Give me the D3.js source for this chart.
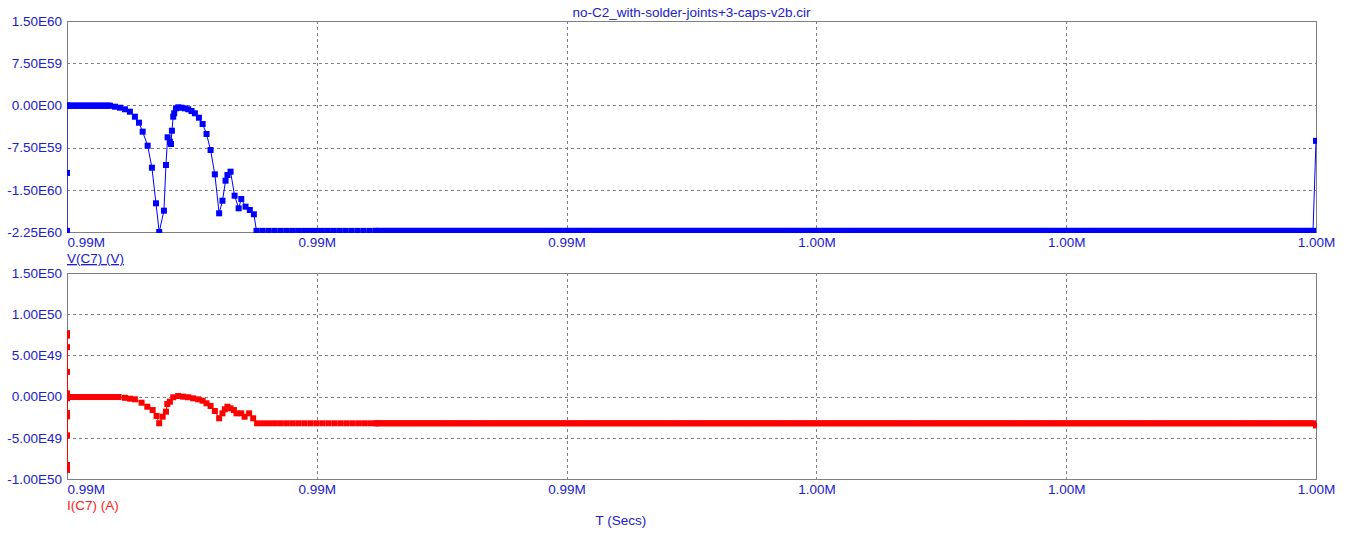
<!DOCTYPE html>
<html><head><meta charset="utf-8">
<script src="https://cdn.jsdelivr.net/npm/d3@7"></script>
<style>body{margin:0;background:#fff}</style>
</head><body>
<svg id="c" width="1353" height="541"></svg>
<script>
// ---------- data ----------
const title = "no-C2_with-solder-joints+3-caps-v2b.cir";
const xLabel = "T (Secs)";
const vName = "V(C7) (V)";
const iName = "I(C7) (A)";
const xDomain = [989500, 1000000];
const xTicks = [989500, 991600, 993700, 995800, 997900, 1000000];
const vTicks = [1.5e60, 7.5e59, 0, -7.5e59, -1.5e60, -2.25e60];
const vTickLabels = ["1.50E60", "7.50E59", "0.00E00", "-7.50E59", "-1.50E60", "-2.25E60"];
const iTicks = [1.5e50, 1e50, 5e49, 0, -5e49, -1e50];
const iTickLabels = ["1.50E50", "1.00E50", "5.00E49", "0.00E00", "-5.00E49", "-1.00E50"];

// V(C7): individually read samples (time s, value in units of 1E60 V)
const vTime = [989500, 989500, 989500, 989861, 989903, 989945, 989987, 990029, 990071, 990105,
  990136, 990178, 990214, 990248, 990275, 990315, 990332, 990346, 990365, 990374,
  990382, 990393, 990401, 990416, 990435, 990463, 990491, 990519, 990547, 990575,
  990609, 990640, 990673, 990707, 990743, 990779, 990807, 990833, 990849, 990875,
  990909, 990943, 990965, 991001, 991037, 991071, 991093, 1000000];
const vValue = [-2.23, -1.20, 0.00, -0.005, -0.023, -0.041, -0.069, -0.112, -0.201, -0.307,
  -0.467, -0.716, -1.107, -1.740, -2.25, -1.871, -1.059, -0.567, -0.645, -0.686,
  -0.450, -0.201, -0.140, -0.052, -0.034, -0.041, -0.052, -0.069, -0.100, -0.140,
  -0.219, -0.331, -0.508, -0.793, -1.225, -1.918, -1.694, -1.338, -1.237, -1.178,
  -1.605, -1.829, -1.663, -1.800, -1.859, -1.935, -2.23, -0.63];
// V(C7): densely sampled flat stretches (start, end, level in 1E60 V, sample step s)
const vDenseStart = [989508, 991143, 992100];
const vDenseEnd   = [989861, 992100, 999990];
const vDenseLevel = [-0.005, -2.23, -2.23];
const denseStep   = [17, 50, 25];

// I(C7): individually read samples (time s, value in units of 1E50 A)
const iTime = [989500, 989500, 989500, 989500, 989500, 989500, 989500, 989500, 989500, 989500, 989500,
  989987, 990029, 990071, 990127, 990175, 990220, 990253, 990275, 990304, 990332,
  990343, 990365, 990393, 990435, 990477, 990519, 990561, 990603, 990640, 990673,
  990707, 990743, 990779, 990807, 990827, 990849, 990875, 990903, 990925, 990965,
  990993, 991031, 991065, 991098, 1000000];
const iValue = [0.77, -0.89, 0.74, -0.83, 0.60, -0.47, 0.30, -0.24, 0.04, -0.20, -0.02,
  -0.015, -0.025, -0.033, -0.074, -0.123, -0.163, -0.235, -0.324, -0.244, -0.183,
  -0.090, -0.062, -0.008, 0.007, -0.001, -0.008, -0.021, -0.033, -0.050, -0.081,
  -0.114, -0.175, -0.263, -0.203, -0.154, -0.123, -0.142, -0.163, -0.203, -0.203,
  -0.244, -0.203, -0.263, -0.324, -0.35];
const iDenseStart = [989508, 991148, 992100];
const iDenseEnd   = [989945, 992100, 999990];
const iDenseLevel = [-0.005, -0.324, -0.324];

// ---------- drawing ----------
const svg = d3.select("#c");
const W = 1353, H = 541;
const left = 67, right = 1316;
const textBlue = "#2020cc";
const font = "'Liberation Sans', Arial, sans-serif";
const fs = 13.5;

svg.append("rect").attr("width", W).attr("height", H).attr("fill", "#fff");

const x = d3.scaleLinear().domain(xDomain).range([left, right]);

function buildSeries(times, values, dStart, dEnd, dLevel, unit) {
  const pts = times.map((t, k) => ({ t, v: values[k] * unit }));
  dStart.forEach((s, k) => {
    d3.range(s, dEnd[k], denseStep[k]).forEach(t => pts.push({ t, v: dLevel[k] * unit }));
  });
  return pts.map((p, k) => ({ ...p, k })).sort((a, b) => a.t - b.t || a.k - b.k);
}

function panel(id, top, bottom, yTicks, yLabels, color, pts) {
  const y = d3.scaleLinear().domain([yTicks[yTicks.length - 1], yTicks[0]]).range([bottom, top]);
  const g = svg.append("g");
  // grid
  g.append("g").selectAll("line").data(yTicks.slice(1, -1)).join("line")
    .attr("x1", left).attr("x2", right)
    .attr("y1", d => Math.round(y(d)) + 0.5).attr("y2", d => Math.round(y(d)) + 0.5)
    .attr("stroke", "#808080").attr("stroke-dasharray", "3,3");
  g.append("g").selectAll("line").data(xTicks.slice(1, -1)).join("line")
    .attr("y1", top).attr("y2", bottom)
    .attr("x1", d => Math.round(x(d)) + 0.5).attr("x2", d => Math.round(x(d)) + 0.5)
    .attr("stroke", "#808080").attr("stroke-dasharray", "3,3");
  // frame
  g.append("rect").attr("x", left + 0.5).attr("y", top + 0.5)
    .attr("width", right - left).attr("height", bottom - top)
    .attr("fill", "none").attr("stroke", "#808080");
  // y axis labels
  const ya = d3.axisLeft(y).tickValues(yTicks).tickFormat((d, k) => yLabels[k]).tickSize(0).tickPadding(5);
  const yg = g.append("g").attr("transform", `translate(${left},0)`).call(ya);
  yg.select(".domain").remove();
  yg.selectAll("text").attr("fill", textBlue).style("font-family", font).style("font-size", fs + "px");
  // x axis labels
  const xa = d3.axisBottom(x).tickValues(xTicks).tickFormat(d => (d / 1e6).toFixed(2) + "M").tickSize(0).tickPadding(5);
  const xg = g.append("g").attr("transform", `translate(0,${bottom})`).call(xa);
  xg.select(".domain").remove();
  xg.selectAll("text").attr("fill", textBlue).style("font-family", font).style("font-size", fs + "px")
    .attr("text-anchor", (d, k) => k === 0 ? "start" : "middle");
  // series
  const clip = svg.append("clipPath").attr("id", id).append("rect")
    .attr("x", left).attr("y", top).attr("width", right - left + 1).attr("height", bottom - top + 1);
  const s = g.append("g").attr("clip-path", `url(#${id})`);
  s.append("path").datum(pts)
    .attr("d", d3.line().x(d => x(d.t)).y(d => y(d.v)))
    .attr("fill", "none").attr("stroke", color).attr("stroke-width", 1);
  const m = 6;
  s.append("g").selectAll("rect").data(pts).join("rect")
    .attr("x", d => x(d.t) - m / 2).attr("y", d => y(d.v) - m / 2)
    .attr("width", m).attr("height", m).attr("fill", color);
  return y;
}

const vPts = buildSeries(vTime, vValue, vDenseStart, vDenseEnd, vDenseLevel, 1e60);
const iPts = buildSeries(iTime, iValue, iDenseStart, iDenseEnd, iDenseLevel, 1e50);

panel("clipV", 21, 232, vTicks, vTickLabels, "#0000ff", vPts);
panel("clipI", 273, 479, iTicks, iTickLabels, "#ff0000", iPts);

// texts
svg.append("text").attr("x", (left + right) / 2).attr("y", 17).attr("text-anchor", "middle")
  .attr("fill", textBlue).style("font-family", font).style("font-size", fs + "px").text(title);
svg.append("text").attr("x", left).attr("y", 263)
  .attr("fill", textBlue).style("font-family", font).style("font-size", fs + "px")
  .style("text-decoration", "underline").text(vName);
svg.append("text").attr("x", left).attr("y", 510)
  .attr("fill", "#ff2020").style("font-family", font).style("font-size", fs + "px").text(iName);
svg.append("text").attr("x", 621).attr("y", 525).attr("text-anchor", "middle")
  .attr("fill", textBlue).style("font-family", font).style("font-size", fs + "px").text(xLabel);
</script>
</body></html>
